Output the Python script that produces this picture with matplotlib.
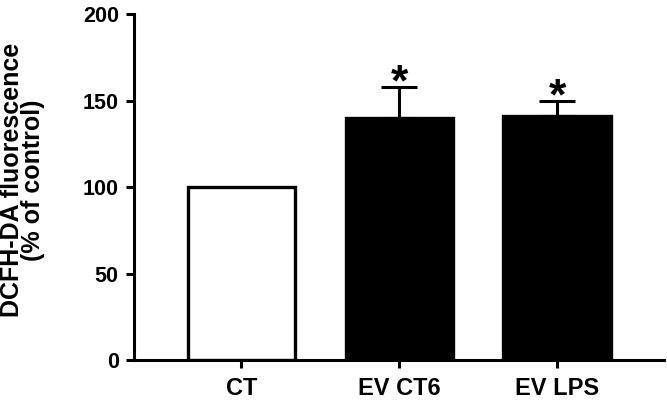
import numpy as np
import matplotlib.pyplot as plt

plt.rcParams['font.family'] = ['Liberation Sans', 'DejaVu Sans']
plt.rcParams['font.weight'] = 'bold'

# values
groups = ['CT', 'EV CT6', 'EV LPS']
means = [100, 140, 141]
err_up = [0, 18, 9]
face = ['white', 'black', 'black']
signif = ['', '*', '*']

fig = plt.figure(figsize=(6.67, 4.05), dpi=100)
ax = fig.add_axes([0.201, 0.111, 0.795, 0.854])

x = np.arange(len(groups))
ax.bar(x, means, width=0.68, color=face, edgecolor='black', linewidth=2.4, zorder=2)

# one-sided error bars (only the ones that have an error)
for xi, m, e in zip(x, means, err_up):
    if e > 0:
        ax.errorbar(xi, m, yerr=[[0], [e]], fmt='none', ecolor='black',
                    elinewidth=2.2, capsize=13, capthick=2.2, zorder=1)

for xi, m, e, s in zip(x, means, err_up, signif):
    if s:
        ax.text(xi, m + e - 5, s, ha='center', va='baseline', fontsize=32, fontweight='bold')

ax.set_xlim(-0.68, 2.68)
ax.set_ylim(0, 200)
ax.set_yticks([0, 50, 100, 150, 200])
ax.set_xticks(x)
ax.set_xticklabels(groups, fontsize=17)
ax.set_ylabel('DCFH-DA fluorescence\n(% of control)', fontsize=18, fontweight='bold',
              linespacing=0.82)
ax.yaxis.set_label_coords(-0.168, 0.52)

for sp in ['top', 'right']:
    ax.spines[sp].set_visible(False)
for sp in ['left', 'bottom']:
    ax.spines[sp].set_linewidth(2.2)
ax.tick_params(width=2.2, length=6)
ax.tick_params(axis='y', labelsize=15.5, pad=5)
ax.tick_params(axis='x', pad=6)
for lab in ax.get_xticklabels() + ax.get_yticklabels():
    lab.set_fontweight('bold')

fig.savefig('out.png', dpi=100)
